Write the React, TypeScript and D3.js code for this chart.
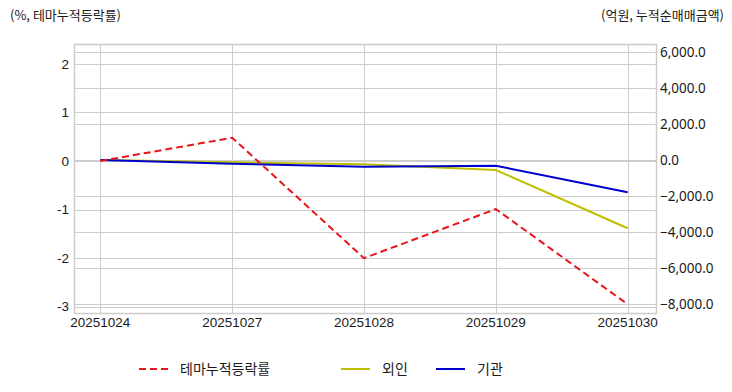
import React, { useEffect, useRef } from "react";
import * as d3 from "d3";

const dates = ["20251024", "20251027", "20251028", "20251029", "20251030"];
const themeRate = [0.0, 0.48, -2.0, -0.99, -2.95];
const foreign = [0, -130, -240, -555, -3790];
const institution = [0, -210, -370, -317, -1795];
const leftTicks = [-3, -2, -1, 0, 1, 2];
const rightTicks = [-8000, -6000, -4000, -2000, 0, 2000, 4000, 6000];

const W = 732;
const H = 392;
const plot = { left: 74, right: 656, top: 44, bottom: 313 };
const kr = "'Noto Sans CJK KR', 'Noto Sans', sans-serif";
const num = "'Liberation Sans', Arial, sans-serif";

const App = () => {
  const svgRef = useRef<SVGSVGElement>(null);

  useEffect(() => {
    const svg = d3.select(svgRef.current);
    svg.selectAll("*").remove();

    const x = d3.scalePoint().domain(dates).range([plot.left, plot.right - 2]).padding(0.2);
    const yL = d3.scaleLinear().domain([-3.13, 2.41]).range([plot.bottom, plot.top]);
    const yR = d3.scaleLinear().domain([-8500, 6444]).range([plot.bottom, plot.top]);

    const grid = svg.append("g").attr("stroke", "#cccccc").attr("stroke-width", 1);
    // horizontal grid for both axes
    leftTicks.forEach((t) => {
      const y = Math.round(yL(t)) + 0.5;
      grid.append("line").attr("x1", plot.left).attr("x2", plot.right).attr("y1", y).attr("y2", y);
    });
    rightTicks.forEach((t) => {
      const y = Math.round(yR(t)) + 0.5;
      grid.append("line").attr("x1", plot.left).attr("x2", plot.right).attr("y1", y).attr("y2", y);
    });
    dates.forEach((d) => {
      const xx = Math.round(x(d)!) + 0.5;
      grid.append("line").attr("x1", xx).attr("x2", xx).attr("y1", plot.top).attr("y2", plot.bottom);
    });
    svg
      .append("rect")
      .attr("x", plot.left + 0.5)
      .attr("y", plot.top + 0.5)
      .attr("width", plot.right - plot.left)
      .attr("height", plot.bottom - plot.top)
      .attr("fill", "none")
      .attr("stroke", "#cccccc")
      .attr("stroke-width", 1.5);

    // left axis labels
    svg
      .append("g")
      .selectAll("text")
      .data(leftTicks)
      .join("text")
      .attr("x", plot.left - 5)
      .attr("y", (d) => yL(d))
      .attr("dy", "0.35em")
      .attr("text-anchor", "end")
      .attr("font-family", num)
      .attr("font-size", 13.5)
      .attr("fill", "#1a1a1a")
      .text((d) => String(d));

    // right axis labels
    svg
      .append("g")
      .selectAll("text")
      .data(rightTicks)
      .join("text")
      .attr("x", plot.right + 4)
      .attr("y", (d) => yR(d))
      .attr("dy", "0.35em")
      .attr("font-family", "'Noto Sans', sans-serif")
      .attr("font-size", 13.5)
      .attr("fill", "#1a1a1a")
      .text((d) => d3.format(",.1f")(d));

    // x labels
    svg
      .append("g")
      .selectAll("text")
      .data(dates)
      .join("text")
      .attr("x", (d) => x(d)!)
      .attr("y", plot.bottom + 14)
      .attr("text-anchor", "middle")
      .attr("font-family", num)
      .attr("font-size", 13.5)
      .attr("fill", "#1a1a1a")
      .text((d) => d);

    const lineL = d3
      .line<number>()
      .x((_, i) => x(dates[i])!)
      .y((v) => yL(v));
    const lineR = d3
      .line<number>()
      .x((_, i) => x(dates[i])!)
      .y((v) => yR(v));

    svg.append("path").attr("d", lineR(foreign)).attr("fill", "none").attr("stroke", "#bfbf00").attr("stroke-width", 2);
    svg.append("path").attr("d", lineR(institution)).attr("fill", "none").attr("stroke", "#0000cc").attr("stroke-width", 2);
    svg
      .append("path")
      .attr("d", lineL(themeRate))
      .attr("fill", "none")
      .attr("stroke", "#e8141a")
      .attr("stroke-width", 2)
      .attr("stroke-dasharray", "7,4");

    // axis titles
    svg
      .append("text")
      .attr("x", 10)
      .attr("y", 20)
      .attr("font-family", kr)
      .attr("font-size", 13)
      .attr("fill", "#1a1a1a")
      .text("(%, 테마누적등락률)");
    svg
      .append("text")
      .attr("x", 724)
      .attr("y", 20)
      .attr("text-anchor", "end")
      .attr("font-family", kr)
      .attr("font-size", 13)
      .attr("fill", "#1a1a1a")
      .text("(억원, 누적순매매금액)");

    // legend
    const legend = [
      { label: "테마누적등락률", color: "#e8141a", dash: "7,4", x: 139 },
      { label: "외인", color: "#bfbf00", dash: null, x: 341 },
      { label: "기관", color: "#0000cc", dash: null, x: 436 },
    ];
    const lg = svg.append("g");
    legend.forEach((l) => {
      lg.append("line")
        .attr("x1", l.x)
        .attr("x2", l.x + 29)
        .attr("y1", 369)
        .attr("y2", 369)
        .attr("stroke", l.color)
        .attr("stroke-width", 2)
        .attr("stroke-dasharray", l.dash);
      lg.append("text")
        .attr("x", l.x + 41)
        .attr("y", 369)
        .attr("dy", "0.35em")
        .attr("font-family", kr)
        .attr("font-size", 14)
        .attr("fill", "#1a1a1a")
        .text(l.label);
    });
  }, []);

  return <svg ref={svgRef} width={W} height={H} style={{ position: "absolute", left: 0, top: 0, background: "#fff" }} />;
};

export default App;
